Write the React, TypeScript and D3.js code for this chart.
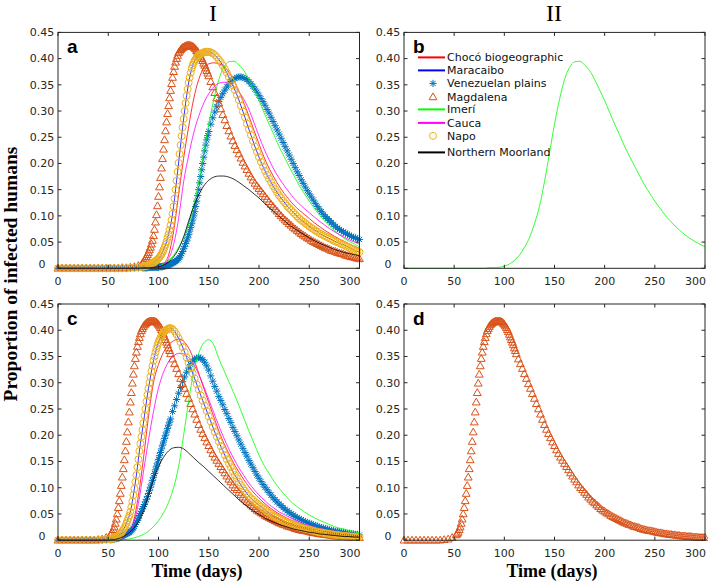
import * as d3 from "d3";

// day grids: markers are dense where the curves rise fast
const DAYS_A = [...d3.range(0, 84, 4), ...d3.range(84, 151), ...d3.range(152, 301, 2)];
const DAYS_C = [...d3.range(0, 52, 4), ...d3.range(52, 113), ...d3.range(114, 301, 2)];
const LINE_DAYS = d3.range(0, 301, 5);

const X_TICKS = [0, 50, 100, 150, 200, 250, 300];
const Y_TICKS = [0, 0.05, 0.1, 0.15, 0.2, 0.25, 0.3, 0.35, 0.4, 0.45];

const NAMES = ["Chocó biogeographic", "Maracaibo", "Venezuelan plains", "Magdalena", "Imerí", "Cauca", "Napo", "Northern Moorland"];

// ---- panel a (marker series on DAYS_A) ----
const magdalenaA = [
  0, 0, 0, 0, 0, 0, 0, 0, 0, 0, 0, 0, 0, 0, 0, 0, .001, .001, .002, .003, .005,
  .01, .012, .015, .018, .022, .026, .03, .035, .04, .046,
  .053, .062, .074, .088, .102, .119, .137, .155, .173, .191,
  .209, .227, .245, .262, .279, .295, .31, .325, .339, .352,
  .364, .375, .385, .393, .4, .406, .411, .414, .417, .419,
  .421, .422, .423, .424, .425, .425, .425, .425, .425, .424,
  .423, .422, .42, .418, .415, .413, .41, .407, .403, .4,
  .396, .391, .387, .382, .377, .372, .367,
  .356, .346, .335, .325, .315, .304, .293, .283, .272, .262,
  .252, .243, .234, .226, .218, .21, .202, .195, .188, .181,
  .174, .168, .162, .157, .152, .147, .142, .137, .132, .127,
  .122, .118, .113, .109, .104, .1, .096, .092, .089, .085,
  .082, .078, .075, .072, .069, .066, .063, .061, .058, .056,
  .053, .051, .049, .047, .045, .043, .041, .039, .038, .036,
  .034, .033, .032, .03, .029, .028, .027, .025, .024, .023,
  .022, .021, .02, .019, .018,
];
const napoA = [
  0, 0, 0, 0, 0, 0, 0, 0, 0, 0, 0, 0, 0, 0, 0, 0, 0, 0, .001, .001, .002,
  .003, .003, .004, .004, .005, .005, .006, .007, .008, .009,
  .01, .011, .012, .014, .015, .017, .019, .021, .024, .027,
  .031, .035, .04, .045, .051, .058, .065, .073, .082, .092,
  .104, .118, .133, .15, .167, .184, .201, .218, .235, .252,
  .269, .285, .3, .315, .329, .342, .354, .364, .373, .381,
  .387, .392, .396, .399, .402, .404, .406, .408, .409, .41,
  .411, .412, .412, .413, .413, .413, .413,
  .412, .41, .407, .403, .398, .393, .387, .38, .373, .365,
  .357, .349, .34, .331, .321, .31, .299, .288, .276, .265,
  .254, .243, .232, .222, .212, .203, .194, .186, .178, .171,
  .164, .157, .151, .145, .139, .134, .129, .124, .119, .115,
  .111, .107, .103, .099, .095, .092, .089, .086, .083, .08,
  .077, .075, .072, .07, .067, .065, .063, .061, .059, .057,
  .055, .053, .051, .05, .048, .046, .045, .043, .041, .039,
  .037, .035, .033, .032, .031,
];
const venezuelanA = [
  0, 0, 0, 0, 0, 0, 0, 0, 0, 0, 0, 0, 0, 0, 0, 0, 0, 0, 0, .001, .001,
  .001, .001, .001, .001, .001, .001, .002, .002, .002, .002,
  .002, .002, .002, .002, .002, .002, .002, .003, .003, .003,
  .003, .004, .004, .005, .005, .006, .006, .007, .008, .009,
  .01, .011, .012, .013, .015, .016, .018, .021, .024, .028,
  .032, .037, .042, .047, .052, .058, .064, .071, .078, .085,
  .092, .1, .108, .118, .128, .139, .15, .163, .175, .188,
  .2, .212, .224, .235, .245, .253, .261,
  .275, .287, .298, .308, .318, .326, .333, .34, .346, .351,
  .356, .36, .362, .364, .365, .365, .364, .362, .36, .356,
  .352, .347, .342, .336, .33, .324, .318, .311, .303, .296,
  .288, .28, .272, .264, .256, .248, .24, .232, .224, .216,
  .208, .2, .192, .184, .177, .169, .162, .155, .148, .142,
  .136, .13, .124, .118, .113, .108, .103, .099, .095, .091,
  .087, .084, .08, .077, .074, .072, .069, .067, .065, .063,
  .061, .059, .058, .056, .055,
];

// ---- panel a line series (LINE_DAYS) ----
const chocoA = [
  0, 0, 0, 0, 0, 0, 0, 0, 0, 0,
  0, 0, 0, 0, 0, 0, 0, .001, .002, .003,
  .004, .009, .025, .07, .14, .21, .27, .323, .36, .382,
  .39, .392, .39, .385, .374, .358, .338, .315, .29, .263,
  .237, .212, .191, .173, .157, .143, .131, .12, .111, .103,
  .095, .087, .08, .073, .067, .061, .056, .051, .046, .042,
  .038,
];
const imeri = [
  0, 0, 0, 0, 0, 0, 0, 0, 0, 0,
  0, 0, 0, 0, 0, 0, 0, .001, .001, .002,
  .004, .008, .015, .025, .04, .058, .085, .118, .165, .22,
  .275, .322, .36, .383, .394, .395, .388, .377, .36, .34,
  .32, .297, .275, .254, .232, .213, .194, .176, .158, .143,
  .128, .115, .102, .091, .081, .072, .064, .057, .051, .046,
  .041,
];
const caucaA = [
  0, 0, 0, 0, 0, 0, 0, 0, 0, 0,
  0, 0, 0, 0, 0, 0, 0, .001, .001, .002,
  .003, .006, .018, .045, .095, .165, .215, .258, .29, .315,
  .333, .346, .353, .355, .353, .347, .337, .322, .303, .278,
  .252, .228, .207, .188, .172, .158, .145, .133, .123, .114,
  .106, .098, .09, .083, .076, .07, .064, .059, .054, .05,
  .046,
];
const northernA = [
  0, 0, 0, 0, 0, 0, 0, 0, 0, 0,
  0, 0, 0, 0, 0, 0, 0, .001, .001, .002,
  .003, .006, .012, .022, .037, .06, .09, .118, .14, .157,
  .168, .174, .176, .176, .174, .17, .164, .157, .15, .142,
  .134, .125, .116, .108, .099, .091, .083, .076, .07, .064,
  .058, .053, .048, .044, .04, .036, .033, .03, .028, .026,
  .024,
];

// ---- panel c (marker series on DAYS_C) ----
const magdalenaC = [
  0, 0, 0, 0, 0, 0, 0, 0, 0, 0, .001, .002, .005,
  .01, .012, .015, .02, .025, .032, .04, .05, .062, .075,
  .089, .104, .12, .136, .153, .17, .188, .206, .225, .244,
  .263, .281, .299, .316, .332, .346, .358, .369, .378, .386,
  .393, .399, .403, .407, .41, .412, .414, .415, .416, .417,
  .417, .417, .417, .417, .417, .416, .415, .413, .411, .408,
  .405, .401, .397, .392, .387, .382, .377, .372, .366, .361,
  .355,
  .345, .336, .327, .317, .308, .298, .289, .279, .27, .26,
  .25, .24, .23, .22, .211, .203, .195, .187, .18, .172,
  .165, .158, .152, .146, .14, .134, .128, .122, .116, .111,
  .105, .1, .096, .091, .087, .082, .078, .074, .071, .067,
  .064, .06, .057, .055, .052, .05, .047, .045, .043, .041,
  .039, .037, .035, .033, .032, .03, .029, .027, .026, .025,
  .024, .022, .021, .02, .019, .018, .018, .017, .016, .015,
  .014, .014, .013, .012, .012, .011, .011, .01, .01, .009,
  .009, .008, .008, .008, .007, .007, .007, .006, .006, .006,
  .005, .005, .005, .005,
];
const napoC = [
  0, 0, 0, 0, 0, 0, 0, 0, 0, 0, 0, .001, .001,
  .002, .002, .003, .003, .004, .005, .006, .007, .008, .01,
  .012, .014, .017, .02, .023, .027, .032, .037, .042, .047,
  .054, .063, .074, .086, .098, .111, .124, .139, .154, .17,
  .184, .197, .21, .223, .237, .25, .264, .277, .289, .3,
  .311, .322, .332, .342, .35, .358, .365, .371, .377, .382,
  .386, .39, .393, .396, .398, .4, .401, .402, .403, .404,
  .404,
  .402, .398, .392, .385, .377, .368, .358, .348, .338, .328,
  .318, .308, .297, .287, .276, .266, .256, .246, .236, .226,
  .216, .206, .197, .188, .179, .171, .162, .154, .146, .139,
  .131, .124, .118, .111, .105, .099, .094, .089, .084, .08,
  .077, .073, .07, .067, .064, .061, .058, .055, .052, .05,
  .047, .045, .043, .041, .039, .037, .035, .034, .032, .031,
  .029, .028, .026, .025, .024, .023, .022, .021, .02, .019,
  .018, .017, .016, .015, .015, .014, .013, .013, .012, .011,
  .011, .01, .01, .009, .009, .008, .008, .008, .007, .007,
  .007, .006, .006, .006,
];
const venezuelanC = [
  0, 0, 0, 0, 0, 0, 0, 0, 0, 0, 0, 0, .001,
  .001, .001, .002, .002, .002, .003, .003, .004, .004, .005,
  .006, .007, .008, .009, .01, .011, .012, .013, .014, .015,
  .016, .018, .02, .023, .026, .03, .034, .038, .042, .047,
  .051, .055, .06, .064, .068, .073, .078, .083, .089, .095,
  .101, .107, .114, .12, .127, .134, .141, .147, .154, .161,
  .167, .174, .181, .187, .194, .2, .206, .213, .219, .225,
  .231,
  .245, .256, .268, .28, .291, .302, .311, .32, .328, .335,
  .341, .345, .347, .348, .347, .344, .339, .332, .324, .313,
  .303, .293, .284, .274, .266, .258, .249, .241, .232, .224,
  .215, .207, .199, .191, .183, .175, .167, .16, .152, .145,
  .138, .131, .124, .118, .112, .106, .101, .096, .091, .086,
  .081, .077, .073, .069, .066, .062, .059, .056, .053, .05,
  .048, .045, .043, .041, .039, .037, .035, .034, .032, .031,
  .029, .028, .027, .025, .024, .023, .022, .021, .02, .019,
  .018, .017, .017, .016, .015, .015, .014, .013, .013, .012,
  .012, .011, .011, .01,
];

// ---- panel c line series (LINE_DAYS) ----
const chocoC = [
  0, 0, 0, 0, 0, 0, 0, 0, 0, 0,
  0, .001, .002, .006, .014, .035, .085, .155, .235, .3,
  .335, .358, .372, .38, .383, .379, .366, .345, .318, .29,
  .262, .235, .208, .185, .165, .146, .13, .115, .102, .09,
  .08, .071, .063, .056, .05, .045, .04, .036, .032, .029,
  .026, .023, .021, .019, .017, .015, .014, .012, .011, .01,
  .009,
];
const imeriC = [
  0, 0, 0, 0, 0, 0, 0, 0, 0, 0,
  0, 0, 0, .001, .002, .004, .007, .011, .017, .026,
  .037, .052, .072, .1, .14, .2, .265, .32, .356, .376,
  .382, .372, .346, .324, .302, .28, .257, .232, .208, .185,
  .162, .143, .127, .112, .099, .088, .077, .068, .061, .054,
  .048, .043, .038, .034, .03, .026, .023, .021, .018, .016,
  .014,
];
const caucaC = [
  0, 0, 0, 0, 0, 0, 0, 0, 0, 0,
  0, 0, .002, .005, .012, .03, .07, .13, .19, .245,
  .29, .32, .34, .351, .356, .355, .348, .335, .316, .293,
  .268, .243, .218, .195, .174, .155, .138, .123, .109, .097,
  .086, .077, .068, .061, .054, .049, .044, .039, .035, .031,
  .028, .025, .023, .02, .018, .017, .015, .014, .012, .011,
  .01,
];
const northernC = [
  0, 0, 0, 0, 0, 0, 0, 0, 0, 0,
  0, .001, .003, .007, .013, .022, .035, .055, .085, .115,
  .14, .158, .17, .176, .177, .174, .166, .157, .148, .14,
  .131, .122, .113, .104, .095, .086, .077, .069, .062, .055,
  .049, .043, .038, .034, .03, .027, .024, .021, .019, .017,
  .015, .014, .012, .011, .01, .009, .008, .007, .007, .006,
  .006,
];

// styles per region (index = NAMES index)
const STYLE = [
  { color: "#ff0000", kind: "line" },
  { color: "#0000ff", kind: "line" },
  { color: "#0072bd", kind: "star" },
  { color: "#d95319", kind: "tri" },
  { color: "#00ff00", kind: "line" },
  { color: "#ff00ff", kind: "line" },
  { color: "#edb120", kind: "circle" },
  { color: "#000000", kind: "line" },
];

type S = { k: number; days: number[]; vals: number[] };

const PANELS: { id: string; x0: number; x1: number; yt: number; yb: number; series: S[]; legend?: boolean }[] = [
  {
    id: "a", x0: 58, x1: 359.5, yt: 32.4, yb: 268.3,
    series: [
      { k: 0, days: LINE_DAYS, vals: chocoA },
      { k: 1, days: DAYS_A, vals: napoA }, // Maracaibo lies under the Napo circles
      { k: 2, days: DAYS_A, vals: venezuelanA },
      { k: 3, days: DAYS_A, vals: magdalenaA },
      { k: 4, days: LINE_DAYS, vals: imeri },
      { k: 5, days: LINE_DAYS, vals: caucaA },
      { k: 6, days: DAYS_A, vals: napoA },
      { k: 7, days: LINE_DAYS, vals: northernA },
    ],
  },
  { id: "b", x0: 404, x1: 705, yt: 32.4, yb: 268.3, legend: true, series: [{ k: 4, days: LINE_DAYS, vals: imeri }] },
  {
    id: "c", x0: 58, x1: 359.5, yt: 304, yb: 540.2,
    series: [
      { k: 0, days: LINE_DAYS, vals: chocoC },
      { k: 1, days: DAYS_C, vals: napoC },
      { k: 2, days: DAYS_C, vals: venezuelanC },
      { k: 3, days: DAYS_C, vals: magdalenaC },
      { k: 4, days: LINE_DAYS, vals: imeriC },
      { k: 5, days: LINE_DAYS, vals: caucaC },
      { k: 6, days: DAYS_C, vals: napoC },
      { k: 7, days: LINE_DAYS, vals: northernC },
    ],
  },
  { id: "d", x0: 404, x1: 705, yt: 304, yb: 540.2, series: [{ k: 3, days: DAYS_C, vals: magdalenaC }] },
];

const TRI = "M0,-4L3.9,2.8L-3.9,2.8Z";
const STAR = "M-3.6,0H3.6M0,-3.6V3.6M-2.6,-2.6L2.6,2.6M-2.6,2.6L2.6,-2.6";
const AXIS = "#262626";
const SANS = "'DejaVu Sans', sans-serif";
const SERIF = "'Liberation Serif', 'Times New Roman', serif";

function Marker({ kind, color, x, y }: { kind: string; color: string; x: number; y: number }) {
  if (kind === "circle") return <circle cx={x} cy={y} r={3.5} fill="none" stroke={color} strokeWidth={1} />;
  if (kind === "tri") return <path d={TRI} transform={`translate(${x},${y})`} fill="none" stroke={color} strokeWidth={1} />;
  return <path d={STAR} transform={`translate(${x},${y})`} fill="none" stroke={color} strokeWidth={1} />;
}

const LEGEND_ROWS = [25, 38, 51, 64.5, 77, 90.5, 103.5, 120];

function Panel({ p }: { p: (typeof PANELS)[number] }) {
  const x = d3.scaleLinear().domain([0, 300]).range([p.x0, p.x1]);
  const y = d3.scaleLinear().domain([0, 0.45]).range([p.yb, p.yt]);
  return (
    <g>
      {p.series.map((s, i) => {
        const st = STYLE[s.k];
        if (st.kind === "line") {
          const line = d3.line<number>()
            .x((_, j) => x(s.days[j]))
            .y((v) => y(v))
            .curve(d3.curveMonotoneX);
          return <path key={i} d={line(s.vals) ?? ""} fill="none" stroke={st.color} strokeWidth={0.8} />;
        }
        return (
          <g key={i}>
            {s.vals.map((v, j) => (
              <Marker key={j} kind={st.kind} color={st.color} x={x(s.days[j])} y={y(v)} />
            ))}
          </g>
        );
      })}
      <rect x={p.x0} y={p.yt} width={p.x1 - p.x0} height={p.yb - p.yt} fill="none" stroke={AXIS} strokeWidth={1} />
      {X_TICKS.map((t) => (
        <g key={"x" + t}>
          <line x1={x(t)} x2={x(t)} y1={p.yb} y2={p.yb - 3.5} stroke={AXIS} />
          <line x1={x(t)} x2={x(t)} y1={p.yt} y2={p.yt + 3.5} stroke={AXIS} />
          <text x={t === 300 ? x(t) + 1 : x(t)} y={p.yb + 17} textAnchor={t === 300 ? "end" : "middle"}
            fontSize={11} fontFamily={SANS} fill={AXIS}>{t}</text>
        </g>
      ))}
      {Y_TICKS.map((t) => (
        <g key={"y" + t}>
          <line x1={p.x0} x2={p.x0 + 3.5} y1={y(t)} y2={y(t)} stroke={AXIS} />
          <line x1={p.x1} x2={p.x1 - 3.5} y1={y(t)} y2={y(t)} stroke={AXIS} />
          <text x={p.x0 - 16} y={y(t) - (t === 0 ? 4 : 0)} dy="0.35em" textAnchor="middle"
            fontSize={11} fontFamily={SANS} fill={AXIS}>{t === 0 ? "0" : d3.format(".2f")(t)}</text>
        </g>
      ))}
      <text x={p.x0 + 9} y={p.yt + 20.5} fontSize={19} fontWeight="bold" fontFamily="'Liberation Sans', Arial, sans-serif">{p.id}</text>
      {p.legend && (
        <g>
          {NAMES.map((n, i) => {
            const st = STYLE[i];
            const cy = p.yt + LEGEND_ROWS[i];
            const lx = p.x0 + 14;
            return (
              <g key={n}>
                {st.kind === "line" ? (
                  <line x1={lx} x2={lx + 27} y1={cy} y2={cy} stroke={st.color} strokeWidth={2} />
                ) : (
                  <Marker kind={st.kind} color={st.color} x={lx + 15} y={cy} />
                )}
                <text x={lx + 29} y={cy + 4} fontSize={11} fontFamily={SANS} fill="#111">{n}</text>
              </g>
            );
          })}
        </g>
      )}
    </g>
  );
}

export default function App() {
  return (
    <svg width={708} height={584} style={{ position: "absolute", left: 0, top: 0, background: "#fff" }}>
      <rect width={708} height={584} fill="#fff" />
      <text x={213} y={21} textAnchor="middle" fontSize={24} fontFamily={SERIF}>I</text>
      <text x={554} y={21} textAnchor="middle" fontSize={24} fontFamily={SERIF}>II</text>
      <text transform="translate(17,274) rotate(-90)" textAnchor="middle" fontSize={19.5} fontWeight="bold" fontFamily={SERIF}>
        Proportion of infected humans
      </text>
      <text x={197} y={577} textAnchor="middle" fontSize={18} fontWeight="bold" fontFamily={SERIF}>Time (days)</text>
      <text x={552} y={577} textAnchor="middle" fontSize={18} fontWeight="bold" fontFamily={SERIF}>Time (days)</text>
      {PANELS.map((p) => (
        <Panel key={p.id} p={p} />
      ))}
    </svg>
  );
}
